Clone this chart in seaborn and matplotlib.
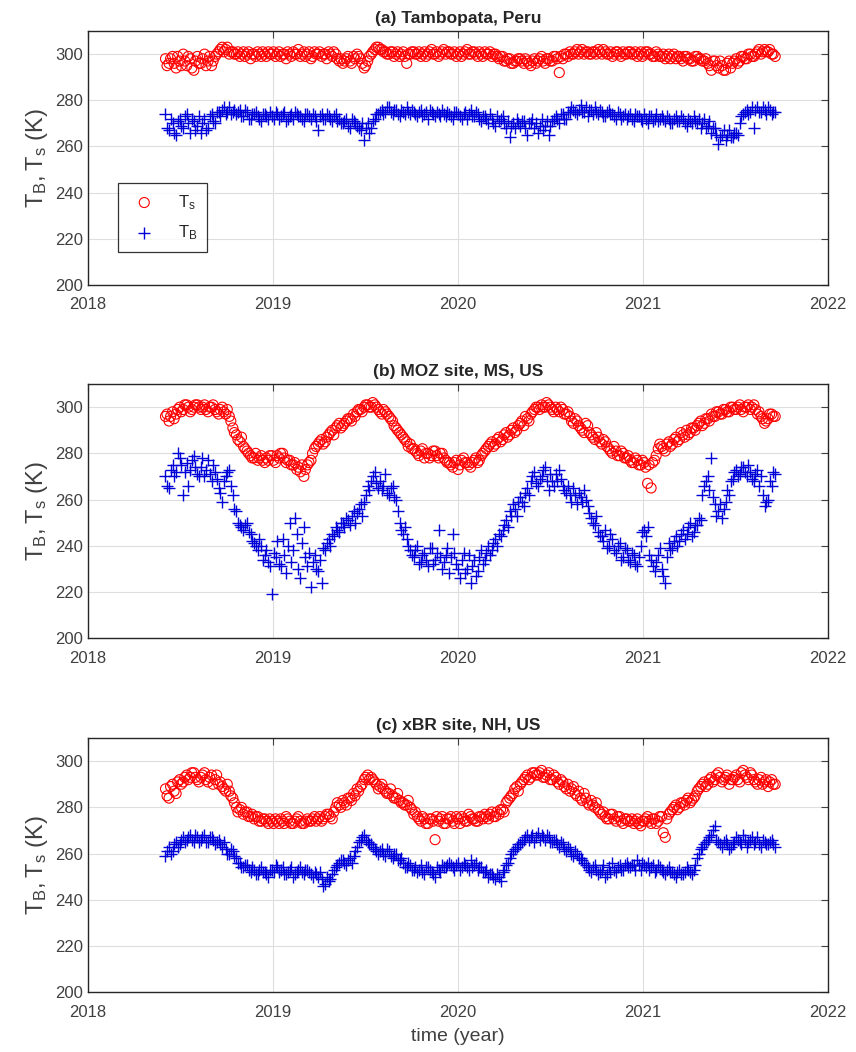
import numpy as np
import pandas as pd
import matplotlib
matplotlib.use('Agg')
import matplotlib.pyplot as plt
import seaborn as sns

# two samples a week: one set on the weekly dates, one set mid-week
start_weekly = "2018-06-03"
start_mid = "2018-06-06"
n_weekly = 173
n_mid = 172

# (a) Tambopata, Peru
ts_tambopata = [
    298, 296, 299, 294, 297, 300, 295, 298, 293, 299,
    296, 300, 297, 295, 299, 301, 303, 302, 300, 301,
    300, 299, 301, 300, 298, 300, 301, 299, 300, 301,
    300, 299, 301, 300, 298, 300, 301, 300, 299, 301,
    300, 298, 301, 300, 299, 300, 301, 299, 300, 297,
    296, 298, 297, 299, 300, 298, 294, 297, 300, 302,
    303, 302, 301, 300, 301, 300, 299, 301, 296, 300,
    301, 300, 299, 301, 300, 302, 300, 299, 301, 300,
    301, 300, 299, 301, 300, 302, 300, 301, 299, 300,
    301, 300, 299, 300, 298, 299, 297, 298, 296, 297,
    298, 296, 297, 295, 298, 297, 299, 296, 298, 297,
    299, 292, 298, 300, 301, 300, 302, 301, 300, 301,
    300, 301, 302, 300, 301, 300, 299, 301, 300, 301,
    300, 301, 300, 299, 301, 300, 301, 300, 299, 300,
    299, 298, 300, 299, 298, 299, 297, 299, 298, 297,
    299, 298, 297, 296, 293, 297, 294, 295, 293, 297,
    296, 298, 297, 299, 298, 300, 299, 301, 300, 302,
    301, 300, 299,
]
ts_tambopata_mid = [
    295, 298, 296, 299, 295, 297, 299, 294, 297, 296,
    298, 295, 299, 297, 300, 302, 301, 303, 301, 300,
    301, 300, 299, 301, 300, 299, 300, 301, 299, 300,
    301, 300, 299, 300, 301, 299, 300, 302, 300, 299,
    301, 299, 300, 301, 300, 298, 300, 301, 298, 298,
    297, 299, 296, 298, 299, 296, 295, 299, 301, 303,
    302, 301, 300, 301, 299, 301, 300, 299, 300, 301,
    300, 301, 300, 299, 301, 300, 301, 300, 302, 301,
    300, 301, 300, 299, 301, 300, 301, 300, 301, 299,
    300, 301, 300, 299, 299, 297, 298, 296, 297, 298,
    297, 298, 296, 297, 296, 298, 297, 298, 297, 299,
    298, 299, 300, 299, 300, 301, 300, 302, 301, 300,
    301, 300, 301, 302, 300, 301, 300, 301, 299, 300,
    301, 300, 301, 300, 299, 301, 300, 299, 301, 299,
    300, 299, 298, 300, 299, 298, 299, 298, 297, 299,
    298, 297, 298, 295, 297, 295, 297, 293, 296, 294,
    297, 296, 299, 298, 300, 299, 300, 302, 301, 301,
    302, 300,
]
tb_tambopata = [
    274, 267, 270, 265, 272, 268, 274, 266, 271, 269,
    266, 272, 268, 274, 270, 275, 276, 274, 277, 275,
    274, 276, 273, 275, 272, 274, 273, 271, 274, 272,
    273, 275, 272, 274, 271, 273, 272, 274, 273, 271,
    274, 272, 273, 267, 274, 272, 273, 271, 274, 272,
    270, 272, 268, 271, 269, 267, 263, 270, 268, 272,
    274, 276, 275, 277, 274, 276, 273, 275, 277, 274,
    275, 273, 276, 274, 272, 275, 273, 274, 276, 273,
    274, 272, 275, 273, 274, 272, 276, 273, 274, 271,
    273, 270, 272, 269, 271, 273, 268, 264, 270, 272,
    269, 271, 265, 270, 268, 266, 272, 269, 265, 271,
    273, 270, 274, 272, 275, 276, 274, 278, 275, 273,
    276, 277, 274, 275, 273, 276, 274, 272, 274, 273,
    272, 274, 271, 273, 272, 274, 270, 273, 272, 271,
    273, 271, 272, 270, 273, 271, 272, 269, 271, 273,
    270, 268, 272, 269, 266, 268, 261, 265, 263, 267,
    264, 266, 270, 274, 276, 275, 268, 277, 275, 276,
    277, 274, 275,
]
tb_tambopata_mid = [
    268, 272, 266, 271, 269, 273, 270, 272, 267, 273,
    270, 267, 273, 271, 275, 273, 277, 275, 274, 276,
    275, 273, 276, 272, 274, 275, 272, 274, 273, 275,
    272, 274, 273, 275, 272, 274, 275, 273, 272, 274,
    273, 274, 271, 273, 272, 274, 272, 273, 271, 270,
    271, 269, 272, 270, 268, 270, 268, 266, 271, 274,
    275, 274, 277, 275, 276, 274, 276, 274, 275, 276,
    274, 275, 273, 275, 276, 274, 275, 273, 274, 275,
    273, 275, 274, 272, 275, 274, 273, 275, 272, 273,
    272, 274, 270, 273, 272, 270, 271, 269, 268, 270,
    271, 268, 270, 272, 270, 269, 267, 271, 269, 272,
    272, 274, 272, 275, 277, 275, 276, 275, 277, 276,
    274, 275, 276, 273, 275, 274, 273, 275, 272, 274,
    273, 272, 274, 273, 271, 272, 273, 271, 274, 272,
    272, 273, 270, 272, 271, 273, 270, 272, 270, 271,
    272, 270, 268, 271, 268, 265, 264, 267, 265, 264,
    266, 265, 273, 275, 274, 277, 276, 275, 277, 274,
    276, 275,
]

# (b) MOZ site, MS, US
ts_moz = [
    296, 294, 298, 297, 300, 299, 301, 298, 300, 301,
    299, 301, 298, 300, 299, 297, 300, 297, 296, 291,
    288, 285, 283, 281, 279, 278, 277, 279, 276, 277,
    279, 276, 278, 280, 276, 277, 275, 273, 272, 270,
    275, 277, 282, 284, 286, 285, 288, 290, 291, 293,
    292, 294, 295, 297, 298, 299, 300, 301, 300, 301,
    299, 297, 298, 296, 294, 291, 289, 287, 285, 284,
    282, 280, 281, 278, 280, 279, 281, 278, 280, 277,
    276, 274, 277, 275, 278, 276, 274, 277, 276, 279,
    281, 283, 285, 284, 287, 286, 289, 288, 291, 290,
    293, 292, 295, 297, 299, 300, 301, 300, 301, 299,
    300, 298, 299, 297, 296, 293, 294, 291, 289, 292,
    288, 286, 287, 284, 285, 282, 280, 281, 279, 280,
    278, 277, 276, 277, 275, 276, 267, 265, 277, 282,
    283, 281, 285, 284, 287, 286, 288, 290, 289, 291,
    292, 294, 293, 295, 297, 296, 298, 297, 299, 298,
    300, 299, 301, 298, 300, 299, 301, 297, 296, 293,
    295, 297, 296,
]
ts_moz_mid = [
    297, 296, 295, 299, 298, 301, 300, 299, 301, 300,
    300, 299, 300, 301, 298, 299, 298, 299, 294, 289,
    286, 287, 282, 280, 278, 280, 278, 277, 278, 279,
    277, 279, 280, 278, 277, 275, 276, 274, 275, 273,
    276, 280, 283, 285, 284, 287, 289, 288, 292, 291,
    293, 295, 294, 296, 299, 298, 301, 300, 302, 300,
    298, 299, 297, 295, 292, 290, 288, 286, 283, 282,
    281, 279, 282, 280, 278, 281, 279, 280, 278, 276,
    275, 276, 273, 277, 276, 275, 276, 278, 277, 280,
    282, 284, 283, 286, 285, 288, 287, 290, 289, 292,
    294, 296, 294, 298, 300, 299, 300, 302, 300, 298,
    299, 300, 297, 298, 294, 295, 292, 290, 293, 289,
    287, 289, 285, 286, 283, 281, 283, 279, 281, 278,
    279, 276, 278, 275, 277, 274, 275, 276, 279, 284,
    282, 284, 283, 286, 285, 289, 287, 288, 291, 290,
    293, 292, 295, 294, 296, 298, 297, 299, 298, 300,
    299, 300, 299, 300, 301, 300, 299, 298, 295, 294,
    297, 296,
]
tb_moz = [
    270, 265, 275, 272, 278, 262, 276, 273, 279, 271,
    274, 270, 277, 268, 272, 265, 259, 270, 273, 262,
    255, 249, 247, 250, 245, 241, 238, 240, 236, 233,
    219, 235, 232, 243, 228, 250, 238, 245, 226, 248,
    231, 222, 236, 229, 224, 238, 243, 245, 248, 246,
    250, 252, 249, 255, 254, 258, 259, 266, 268, 272,
    265, 264, 271, 262, 266, 260, 250, 245, 243, 238,
    235, 240, 233, 237, 231, 239, 234, 247, 230, 236,
    228, 245, 232, 226, 237, 230, 224, 234, 229, 238,
    234, 240, 238, 243, 245, 247, 251, 255, 258, 253,
    261, 257, 265, 268, 272, 266, 270, 274, 264, 268,
    271, 273, 266, 263, 262, 265, 258, 261, 264, 257,
    252, 249, 246, 244, 247, 240, 243, 237, 241, 235,
    238, 233, 236, 231, 240, 247, 248, 234, 229, 236,
    230, 224, 241, 239, 244, 242, 247, 245, 250, 246,
    249, 251, 266, 270, 278, 258, 255, 252, 259, 262,
    269, 273, 271, 274, 270, 272, 268, 273, 270, 257,
    260, 266, 271,
]
tb_moz_mid = [
    266, 273, 270, 280, 275, 272, 266, 277, 274, 270,
    278, 273, 271, 275, 269, 263, 268, 272, 266, 256,
    250, 248, 249, 246, 242, 240, 243, 234, 238, 231,
    237, 242, 231, 236, 240, 233, 252, 230, 241, 235,
    237, 233, 230, 234, 239, 241, 240, 244, 247, 250,
    248, 251, 253, 250, 256, 253, 262, 264, 270, 267,
    268, 266, 263, 265, 261, 255, 247, 248, 240, 236,
    238, 232, 236, 234, 239, 232, 237, 235, 233, 239,
    235, 237, 230, 234, 228, 236, 231, 227, 235, 232,
    237, 236, 241, 240, 244, 249, 248, 253, 256, 259,
    259, 263, 262, 270, 267, 269, 273, 268, 271, 266,
    268, 269, 264, 266, 259, 262, 263, 259, 260, 254,
    250, 253, 244, 242, 239, 245, 238, 240, 234, 239,
    234, 237, 232, 235, 246, 244, 236, 231, 233, 239,
    227, 235, 238, 242, 240, 245, 243, 248, 244, 249,
    252, 262, 268, 264, 261, 253, 258, 256, 264, 268,
    272, 270, 274, 272, 275, 269, 271, 266, 262, 259,
    268, 272,
]

# (c) xBR site, NH, US
ts_xbr = [
    288, 284, 290, 286, 292, 291, 294, 293, 295, 292,
    293, 295, 291, 294, 292, 290, 289, 287, 287, 284,
    280, 279, 277, 278, 276, 275, 276, 274, 275, 273,
    274, 275, 273, 274, 276, 274, 273, 275, 274, 273,
    275, 274, 276, 275, 274, 276, 277, 275, 280, 281,
    283, 281, 284, 286, 288, 289, 292, 294, 293, 291,
    288, 290, 287, 286, 285, 284, 283, 282, 281, 280,
    277, 276, 274, 275, 273, 275, 266, 274, 276, 273,
    275, 274, 276, 273, 275, 274, 276, 275, 274, 276,
    277, 275, 278, 276, 277, 279, 282, 284, 286, 289,
    290, 292, 294, 293, 295, 294, 296, 293, 295, 292,
    293, 290, 291, 288, 287, 289, 285, 284, 286, 282,
    283, 280, 279, 277, 276, 275, 277, 274, 276, 273,
    275, 274, 273, 275, 272, 274, 276, 273, 275, 274,
    276, 267, 277, 279, 281, 280, 282, 283, 282, 284,
    287, 289, 291, 290, 293, 292, 295, 291, 293, 290,
    292, 294, 291, 296, 293, 295, 292, 290, 293, 291,
    289, 292, 290,
]
ts_xbr_mid = [
    285, 289, 287, 291, 290, 293, 292, 295, 293, 291,
    294, 292, 293, 290, 294, 291, 288, 290, 285, 282,
    278, 280, 278, 276, 277, 276, 274, 275, 274, 275,
    273, 274, 275, 273, 275, 273, 274, 276, 273, 274,
    274, 275, 274, 276, 275, 277, 276, 278, 282, 280,
    282, 284, 283, 285, 287, 290, 293, 292, 292, 290,
    289, 288, 286, 288, 284, 286, 282, 281, 283, 279,
    278, 275, 276, 273, 275, 274, 276, 275, 273, 275,
    276, 273, 275, 276, 274, 277, 275, 274, 276, 275,
    276, 277, 276, 278, 279, 278, 283, 285, 288, 287,
    291, 293, 292, 295, 294, 295, 293, 294, 292, 294,
    291, 292, 289, 290, 288, 286, 287, 283, 284, 281,
    281, 282, 278, 278, 275, 277, 275, 276, 274, 275,
    274, 275, 274, 273, 274, 275, 274, 275, 273, 276,
    269, 275, 278, 280, 279, 282, 281, 284, 283, 285,
    288, 290, 289, 292, 291, 294, 293, 292, 294, 292,
    293, 292, 295, 294, 292, 294, 291, 292, 290, 292,
    291, 290,
]
tb_xbr = [
    259, 263, 261, 265, 264, 267, 266, 268, 265, 267,
    266, 268, 265, 267, 264, 266, 263, 262, 260, 261,
    258, 256, 254, 255, 252, 253, 251, 254, 252, 250,
    253, 255, 252, 254, 251, 253, 250, 252, 254, 251,
    253, 251, 252, 250, 249, 247, 248, 251, 254, 256,
    257, 255, 258, 259, 263, 266, 268, 265, 264, 262,
    260, 262, 259, 261, 258, 260, 257, 256, 254, 255,
    253, 252, 255, 251, 254, 252, 250, 253, 255, 254,
    256, 254, 255, 253, 256, 254, 257, 255, 253, 254,
    252, 250, 251, 249, 250, 252, 255, 258, 261, 263,
    264, 266, 268, 267, 265, 269, 268, 266, 267, 265,
    266, 263, 264, 261, 262, 259, 260, 258, 256, 254,
    252, 255, 251, 253, 250, 254, 256, 252, 255, 253,
    256, 254, 255, 257, 253, 255, 256, 254, 252, 255,
    253, 251, 254, 252, 250, 253, 251, 254, 252, 253,
    258, 262, 264, 266, 268, 272, 265, 263, 266, 262,
    264, 267, 265, 268, 263, 266, 264, 267, 263, 265,
    264, 266, 263,
]
tb_xbr_mid = [
    261, 260, 264, 263, 266, 265, 267, 266, 268, 265,
    267, 265, 267, 266, 265, 264, 265, 260, 262, 259,
    256, 254, 255, 253, 254, 251, 253, 252, 251, 253,
    252, 254, 253, 251, 252, 254, 251, 253, 252, 253,
    252, 250, 251, 252, 246, 250, 249, 253, 255, 257,
    256, 257, 256, 261, 265, 267, 266, 264, 263, 261,
    261, 260, 262, 259, 260, 257, 258, 254, 256, 253,
    254, 253, 252, 254, 253, 251, 254, 252, 254, 255,
    255, 253, 256, 254, 255, 253, 254, 256, 254, 252,
    253, 251, 250, 251, 248, 253, 256, 260, 262, 264,
    265, 267, 266, 268, 267, 266, 267, 268, 265, 266,
    264, 265, 262, 263, 260, 261, 258, 257, 255, 253,
    254, 253, 252, 255, 251, 252, 253, 254, 253, 255,
    254, 255, 253, 255, 256, 254, 253, 255, 253, 254,
    252, 253, 252, 251, 252, 251, 252, 253, 251, 255,
    260, 263, 265, 267, 270, 266, 264, 265, 264, 263,
    265, 266, 264, 266, 265, 267, 265, 264, 266, 264,
    265, 264,
]

panels = [
    ("(a) Tambopata, Peru", ts_tambopata + ts_tambopata_mid, tb_tambopata + tb_tambopata_mid),
    ("(b) MOZ site, MS, US", ts_moz + ts_moz_mid, tb_moz + tb_moz_mid),
    ("(c) xBR site, NH, US", ts_xbr + ts_xbr_mid, tb_xbr + tb_xbr_mid),
]
year_ticks = [2018, 2019, 2020, 2021, 2022]
temp_ticks = [200, 220, 240, 260, 280, 300]


def decimal_year(dates):
    return np.asarray(dates.year + (dates.dayofyear - 1) / 365.25)


sns.set_style("white")
plt.rcParams['font.family'] = ['Liberation Sans', 'DejaVu Sans']
plt.rcParams['mathtext.default'] = 'regular'

years = np.concatenate([
    decimal_year(pd.date_range(start_weekly, periods=n_weekly, freq="7D")),
    decimal_year(pd.date_range(start_mid, periods=n_mid, freq="7D")),
])

fig = plt.figure(figsize=(8.56, 10.52), dpi=100)
bottoms = [0.7291, 0.3935, 0.0570]
ink = '#404040'
blue = '#0000d8'

for (title, ts, tb), bottom in zip(panels, bottoms):
    ax = fig.add_axes([0.1028, bottom, 0.8645, 0.2414])
    ax.grid(True, color='#dedede', linewidth=0.8)
    ax.set_axisbelow(True)

    sns.scatterplot(x=years, y=ts, ax=ax, marker='o', s=52, color='red',
                    facecolor='none', edgecolor='red', linewidth=0.8, label='$T_s$')
    sns.scatterplot(x=years, y=tb, ax=ax, marker='+', s=64, color=blue,
                    edgecolor=blue, linewidth=1.0, label='$T_B$')

    ax.set_xlim(2018, 2022)
    ax.set_ylim(200, 310)
    ax.set_xticks(year_ticks)
    ax.set_yticks(temp_ticks)
    ax.tick_params(direction='in', length=5, width=0.8, top=True, right=True,
                   labelsize=12, colors=ink, labelcolor=ink)
    ax.tick_params(axis='x', pad=9)
    for spine in ax.spines.values():
        spine.set_color('#262626')
        spine.set_linewidth(1.0)
    ax.set_title(title, fontsize=12.5, fontweight='bold', pad=6)
    ax.set_ylabel('$T_B, T_s$ (K)', fontsize=17, color=ink, labelpad=4)

    if title.startswith("(a)"):
        leg = ax.legend(loc='lower left', bbox_to_anchor=(0.04, 0.13), fontsize=12,
                        frameon=True, fancybox=False, labelspacing=0.7,
                        handletextpad=1.0, borderpad=0.6, borderaxespad=0)
        leg.get_frame().set_edgecolor('black')
        leg.get_frame().set_linewidth(0.9)
    else:
        ax.get_legend().remove()

ax.set_xlabel('time (year)', fontsize=14, color=ink, labelpad=6)

plt.savefig('out.png', dpi=100)
plt.close()
